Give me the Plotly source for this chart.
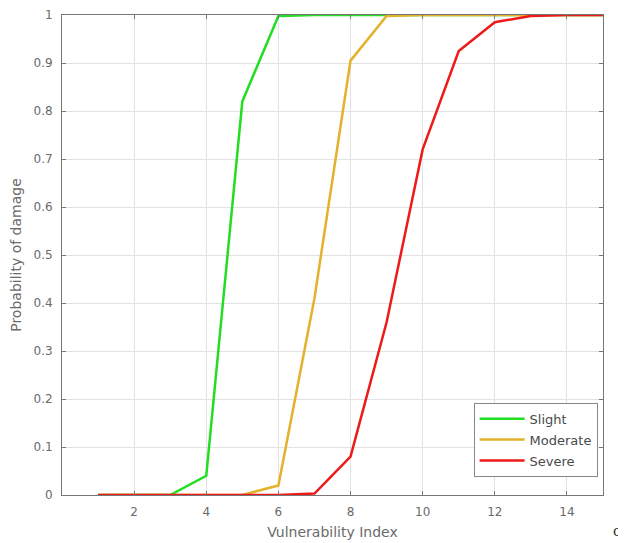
import plotly.graph_objects as go

vuln_index = [1, 2, 3, 4, 5, 6, 7, 8, 9, 10, 11, 12, 13, 14, 15]
slight = [0, 0, 0, 0.04, 0.82, 0.998, 1, 1, 1, 1, 1, 1, 1, 1, 1]
moderate = [0, 0, 0, 0, 0, 0.02, 0.41, 0.905, 0.998, 1, 1, 1, 1, 1, 1]
severe = [0, 0, 0, 0, 0, 0, 0.003, 0.08, 0.36, 0.72, 0.925, 0.985, 0.998, 1, 1]

x_ticks = [2, 4, 6, 8, 10, 12, 14]
y_ticks = [0, 0.1, 0.2, 0.3, 0.4, 0.5, 0.6, 0.7, 0.8, 0.9, 1]
y_ticktext = ["0", "0.1", "0.2", "0.3", "0.4", "0.5", "0.6", "0.7", "0.8", "0.9", "1"]

fig = go.Figure()
fig.add_trace(go.Scatter(x=vuln_index, y=slight, mode="lines", name="Slight", legendgroup="a",
                         line=dict(color="#22dd22", width=2.5)))
fig.add_trace(go.Scatter(x=vuln_index, y=moderate, mode="lines", name="Moderate", legendgroup="b",
                         line=dict(color="#e3b12a", width=2.5)))
fig.add_trace(go.Scatter(x=vuln_index, y=severe, mode="lines", name="Severe", legendgroup="c",
                         line=dict(color="#ee1a1a", width=2.5)))

axis_common = dict(showgrid=True, gridcolor="#e2e2e2", gridwidth=1, zeroline=False,
                   showline=True, linecolor="#777777", linewidth=1, mirror="ticks",
                   ticks="inside", ticklen=4, tickcolor="#777777",
                   tickfont=dict(family="DejaVu Sans", size=12, color="#6a6a6a"))

# page has an 8px body margin, so figure is 618x535 and margins shifted by 8px
fig.update_layout(
    width=618, height=535,
    margin=dict(l=54, r=23, t=7, b=48, autoexpand=False),
    paper_bgcolor="white", plot_bgcolor="white",
    showlegend=True,
    legend=dict(x=0.99, y=0.038, xanchor="right", yanchor="bottom",
                bordercolor="#888888", borderwidth=1, bgcolor="white",
                font=dict(family="DejaVu Sans", size=13, color="#4a4a4a"),
                tracegroupgap=1, itemwidth=45),
    xaxis=dict(range=[0, 15], tickvals=x_ticks, ticklabelstandoff=6,
               title=dict(text="Vulnerability Index", standoff=8,
                          font=dict(family="DejaVu Sans", size=14, color="#6a6a6a")),
               **axis_common),
    yaxis=dict(range=[0, 1], tickvals=y_ticks, ticktext=y_ticktext, ticklabelstandoff=6,
               title=dict(text="Probability of damage", standoff=8,
                          font=dict(family="DejaVu Sans", size=14, color="#6a6a6a")),
               **axis_common),
    annotations=[dict(text="c", x=1.0, y=0, xref="paper", yref="paper",
                      xanchor="left", yanchor="bottom", xshift=8, yshift=-46,
                      showarrow=False, font=dict(family="DejaVu Serif", size=14, color="#333333"))],
)

fig.write_html("out.html")
